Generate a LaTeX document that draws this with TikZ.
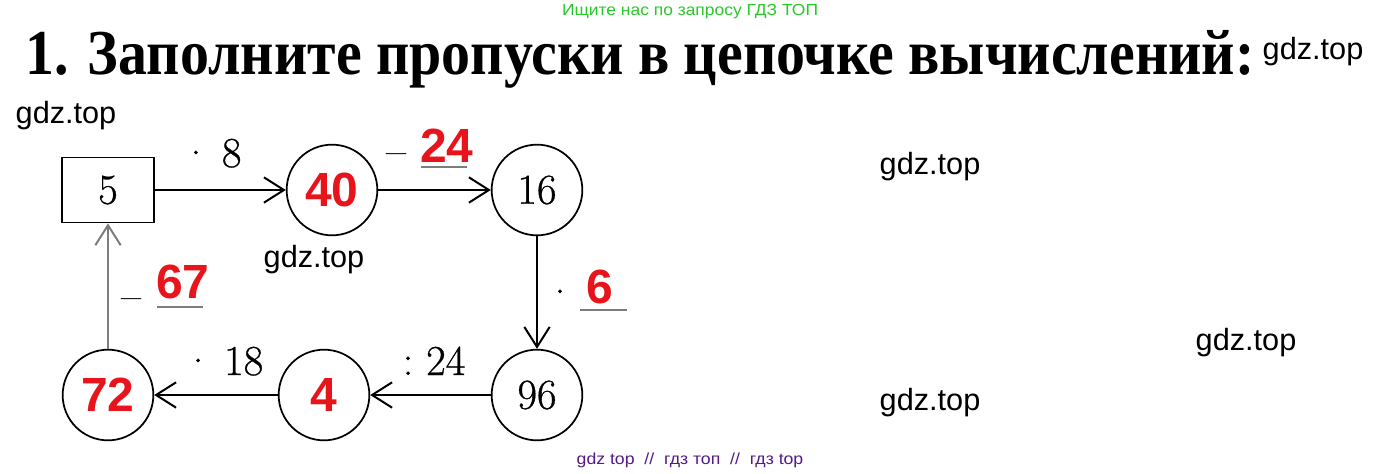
\documentclass[tikz,border=0pt]{standalone}
\usepackage{graphicx}
\usepackage{fontspec}
\newfontfamily\titlefont{Liberation Serif}
\newfontfamily\wmfont{Liberation Sans}
\newfontfamily\numfont{Latin Modern Roman}[FakeBold=0.7]
\usetikzlibrary{arrows.meta}
\definecolor{ansred}{RGB}{232,20,28}
\definecolor{ulgray}{RGB}{125,125,125}
\definecolor{wmgreen}{RGB}{40,200,40}
\definecolor{wmpurple}{RGB}{85,25,140}

\begin{document}
\begin{tikzpicture}[x=0.75pt,y=-0.75pt,every node/.style={inner sep=0pt},
  num/.style={circle,draw,line width=1.3pt,minimum size=68pt,font=\numfont\fontsize{32}{36}\selectfont},
  ans/.style={text=ansred,font=\wmfont\bfseries\fontsize{36}{40}\selectfont},
  op/.style={font=\numfont\fontsize{32}{36}\selectfont},
  link/.style={line width=1.5pt,-{Straight Barb[length=15pt,width=19pt]}},
  uline/.style={ulgray,line width=2pt},
  wm/.style={font=\wmfont\fontsize{23}{26}\selectfont}]
  \useasboundingbox (0,0) rectangle (1383,474);
  % heading
  \node[anchor=base west] (title) at (25,75) {\resizebox{922pt}{\height}{\titlefont\bfseries\fontsize{48}{52}\selectfont 1. Заполните пропуски в цепочке вычислений:}};
  \node[text=wmgreen] (find) at (690,12) {\resizebox{192pt}{\height}{\wmfont\fontsize{12}{14}\selectfont Ищите нас по запросу ГДЗ ТОП}};
  % chain
  \node[draw,line width=1.3pt,minimum width=69pt,minimum height=48.75pt,font=\numfont\fontsize{32}{36}\selectfont] (box5) at (108,190) {5};
  \node[num,ans] (c40) at (332,190) {40};
  \node[num] (c16) at (537,190) {16};
  \node[num] (c96) at (537,395) {96};
  \node[num,ans] (c4) at (324,395) {4};
  \node[num,ans] (c72) at (108,395) {72};
  \draw[link] (box5) -- (c40);
  \draw[link] (c40) -- (c16);
  \draw[link] (c16) -- (c96);
  \draw[link] (c96) -- (c4);
  \draw[link] (c4) -- (c72);
  \draw[link,ulgray] (c72) -- (box5);
  % operations
  \node[op,anchor=base] (l8) at (211,167) {·\hspace{0.25em}8};
  \node[op,anchor=base] (m24) at (396,165) {–};
  \node[ans,anchor=base west] (r24) at (420,162) {24};
  \draw[uline] (421,167) -- (467,167);
  \node[op,anchor=base] (d6) at (560,306) {·};
  \node[ans,anchor=base west] (r6) at (586,303) {6};
  \draw[uline] (580,310) -- (627,310);
  \node[op,anchor=base] (l24) at (434,375) {:\hspace{0.3em}24};
  \node[op,anchor=base] (l18) at (223,375) {·\hspace{0.25em}18};
  \node[op,anchor=base] (m67) at (131,310) {–};
  \node[ans,anchor=base west] (r67) at (156,298) {67};
  \draw[uline] (157,307) -- (203,307);
  % watermarks
  \node[wm] (wm1) at (1313,52) {gdz.top};
  \node[wm] (wm2) at (66,116) {gdz.top};
  \node[wm] (wm3) at (930,167) {gdz.top};
  \node[wm] (wm4) at (314,260) {gdz.top};
  \node[wm] (wm5) at (1246,343) {gdz.top};
  \node[wm] (wm6) at (930,403) {gdz.top};
  \node[text=wmpurple] (foot) at (690,460) {\resizebox{170pt}{\height}{\wmfont\fontsize{12}{14}\selectfont gdz top\ \ //\ \ гдз топ\ \ //\ \ гдз top}};
\end{tikzpicture}
\end{document}
